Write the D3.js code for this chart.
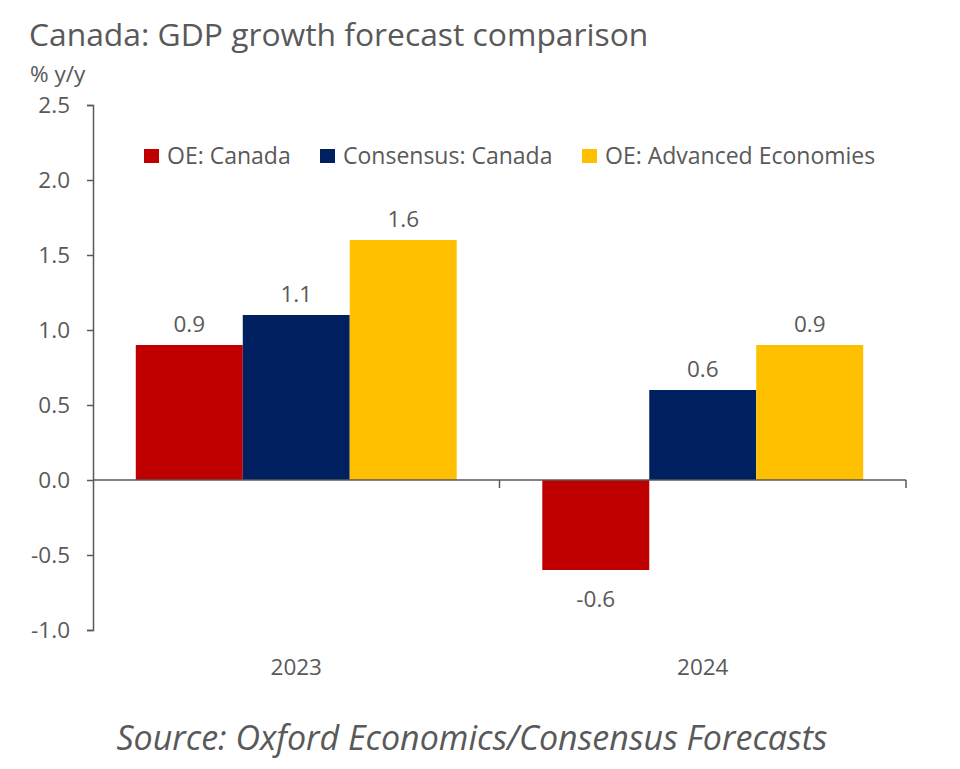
<!DOCTYPE html>
<html><head><meta charset="utf-8">
<script src="https://cdn.jsdelivr.net/npm/d3@7"></script>
<style>body{margin:0;background:#fff;} text{font-family:"Open Sans",sans-serif;fill:#595959;}</style>
</head><body>
<svg id="c" width="960" height="769"></svg>
<script>
const categories = ["2023", "2024"];
const seriesNames = ["OE: Canada", "Consensus: Canada", "OE: Advanced Economies"];
const oeCanada = [0.9, -0.6];
const consensusCanada = [1.1, 0.6];
const oeAdvanced = [1.6, 0.9];
const yTicks = [2.5, 2.0, 1.5, 1.0, 0.5, 0.0, -0.5, -1.0];
const colors = ["#C00000", "#002060", "#FFC000"];

const seriesValues = [oeCanada, consensusCanada, oeAdvanced];
const svg = d3.select("#c");
const axisColor = "#595959";
const fmt = v => d3.format(".1f")(v).replace("\u2212", "-");

const x0 = d3.scaleBand().domain(categories).range([93, 906]).paddingInner(0).paddingOuter(0);
const x1 = d3.scaleBand().domain(seriesNames).range([0, x0.bandwidth()]).paddingInner(0).paddingOuter(0.4);
const y = d3.scaleLinear().domain([-1.0, 2.5]).range([630, 105]);

// title
svg.append("text").attr("x", 29).attr("y", 46).attr("font-size", 31.8).text("Canada: GDP growth forecast comparison");
svg.append("text").attr("x", 30).attr("y", 82).attr("font-size", 22.5).text("% y/y");

// bars
const g = svg.append("g");
categories.forEach((cat, i) => {
  seriesNames.forEach((s, j) => {
    const v = seriesValues[j][i];
    g.append("rect")
      .attr("x", x0(cat) + x1(s))
      .attr("width", x1.bandwidth())
      .attr("y", y(Math.max(0, v)))
      .attr("height", Math.abs(y(v) - y(0)))
      .attr("fill", colors[j]);
    g.append("text")
      .attr("x", x0(cat) + x1(s) + x1.bandwidth() / 2)
      .attr("y", v >= 0 ? y(v) - 13 : y(v) + 37)
      .attr("text-anchor", "middle")
      .attr("font-size", 22.5)
      .text(fmt(v));
  });
});

// y axis
const yAxis = d3.axisLeft(y).tickValues(yTicks).tickFormat(fmt).tickSize(6).tickPadding(17);
const ya = svg.append("g").attr("transform", "translate(93,0)").call(yAxis);
ya.select(".domain").attr("stroke", axisColor).attr("stroke-width", 1.5);
ya.selectAll(".tick line").attr("stroke", axisColor).attr("stroke-width", 1.5);
ya.selectAll(".tick text").attr("font-size", 22.5).attr("fill", "#595959").style("font-family", '"Open Sans",sans-serif');

// x axis at zero
const xa = svg.append("g").attr("transform", `translate(0,${y(0)})`);
xa.append("line").attr("x1", 93).attr("x2", 906).attr("y1", 0).attr("y2", 0).attr("stroke", axisColor).attr("stroke-width", 1.5);
[x0.range()[0] + x0.bandwidth(), x0.range()[1]].forEach(xx => {
  xa.append("line").attr("x1", xx).attr("x2", xx).attr("y1", 0).attr("y2", 8).attr("stroke", axisColor).attr("stroke-width", 1.5);
});
categories.forEach(cat => {
  svg.append("text").attr("x", x0(cat) + x0.bandwidth() / 2).attr("y", 675)
    .attr("text-anchor", "middle").attr("font-size", 22.5).text(cat);
});

// legend
const legendX = [144, 320, 582];
seriesNames.forEach((s, j) => {
  svg.append("rect").attr("x", legendX[j]).attr("y", 149).attr("width", 15).attr("height", 14).attr("fill", colors[j]);
  svg.append("text").attr("x", legendX[j] + 23).attr("y", 164).attr("font-size", 23).text(s);
});

// source
svg.append("text").attr("x", 472).attr("y", 750).attr("text-anchor", "middle")
  .attr("font-size", 34).attr("font-style", "italic").text("Source: Oxford Economics/Consensus Forecasts");
</script>
</body></html>
